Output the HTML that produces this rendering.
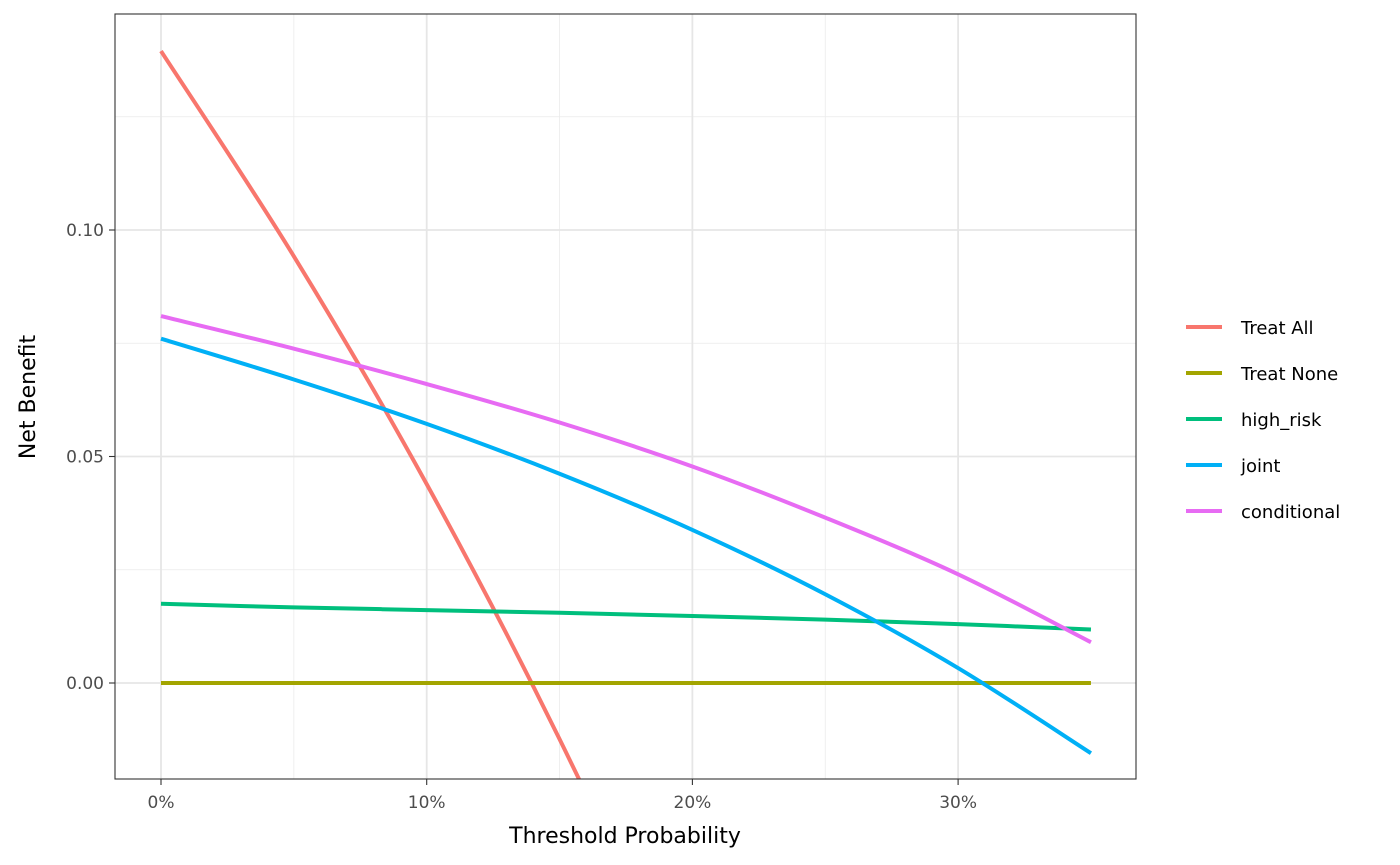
<!DOCTYPE html>
<html><head><meta charset="utf-8"><style>
html,body{margin:0;padding:0;background:#fff;overflow:hidden;width:1400px;height:865px}
svg{display:block}
svg text{font-family:"DejaVu Sans","Liberation Sans",sans-serif}
</style></head><body>
<svg width="1400" height="865" id="chart">
<defs><clipPath id="clip"><rect x="115" y="14" width="1021" height="765"/></clipPath></defs>
<rect x="115" y="14" width="1021" height="765" fill="#fff"/>
<g id="grid"></g>
<g id="series" clip-path="url(#clip)"></g>
<rect x="115" y="14" width="1021" height="765" fill="none" stroke="#333" stroke-width="1.1"/>
<g id="axes"></g>
<text x="625" y="843" text-anchor="middle" font-size="22" fill="#000">Threshold Probability</text>
<text transform="translate(35,397) rotate(-90)" text-anchor="middle" font-size="22" fill="#000">Net Benefit</text>
<g id="legend"></g>
</svg>
<script>
const thresholds=[0,0.05,0.10,0.15,0.20,0.25,0.30,0.35];
const treatAll=[0.1395,0.0942,0.0439,-0.0124,-0.0756,-0.147,-0.229,-0.324];
const treatNone=[0,0,0,0,0,0,0,0];
const highRisk=[0.0175,0.0167,0.0161,0.0155,0.0148,0.0140,0.0130,0.0118];
const joint=[0.076,0.067,0.0572,0.0462,0.0338,0.0196,0.0033,-0.0155];
const conditional=[0.081,0.0738,0.066,0.0575,0.0478,0.0365,0.0240,0.0090];
const seriesNames=["Treat All","Treat None","high_risk","joint","conditional"];
const seriesColors=["#F8766D","#A3A500","#00BF7D","#00B0F6","#E76BF3"];
const xTicks=[0,0.1,0.2,0.3];
const xTickLabels=["0%","10%","20%","30%"];
const yTicks=[0,0.05,0.10];
const yTickLabels=["0.00","0.05","0.10"];
const xMinor=[0.05,0.15,0.25];
const yMinor=[-0.025,0.025,0.075,0.125];
const NS="http://www.w3.org/2000/svg";
const X=t=>161+t*2657;
const Y=v=>683-v*4530;
function mk(tag,attrs,parent){const e=document.createElementNS(NS,tag);for(const k in attrs)e.setAttribute(k,attrs[k]);parent.appendChild(e);return e;}
const grid=document.getElementById('grid');
xMinor.forEach(t=>{const l=mk('line',{x1:X(t),x2:X(t),y1:14,y2:779,stroke:'#ebebeb','stroke-width':0.8},grid);

});
yMinor.forEach(v=>{if(Y(v)<14||Y(v)>779)return;const l=mk('line',{x1:115,x2:1136,y1:Y(v),y2:Y(v),stroke:'#ebebeb','stroke-width':0.8},grid);

});
xTicks.forEach(t=>{const l=mk('line',{x1:X(t),x2:X(t),y1:14,y2:779,stroke:'#e6e6e6','stroke-width':1.8},grid);

});
yTicks.forEach(v=>{const l=mk('line',{x1:115,x2:1136,y1:Y(v),y2:Y(v),stroke:'#e6e6e6','stroke-width':1.8},grid);

});
const axes=document.getElementById('axes');
xTicks.forEach((t,i)=>{const l=mk('line',{x1:X(t),x2:X(t),y1:779,y2:785,stroke:'#333','stroke-width':1.1},axes);


const tx=mk('text',{x:X(t),y:808,'text-anchor':'middle','font-size':17,fill:'#4d4d4d'},axes);tx.textContent=xTickLabels[i];

});
yTicks.forEach((v,i)=>{const l=mk('line',{x1:109,x2:115,y1:Y(v),y2:Y(v),stroke:'#333','stroke-width':1.1},axes);


const tx=mk('text',{x:104,y:Y(v)+6,'text-anchor':'end','font-size':17,fill:'#4d4d4d'},axes);tx.textContent=yTickLabels[i];

});
function smooth(vals){const p=thresholds.map((t,i)=>[X(t),Y(vals[i])]);let d='M'+p[0][0]+','+p[0][1];
for(let i=0;i<p.length-1;i++){const p0=p[Math.max(0,i-1)],p1=p[i],p2=p[i+1],p3=p[Math.min(p.length-1,i+2)];
const c1=[p1[0]+(p2[0]-p0[0])/6,p1[1]+(p2[1]-p0[1])/6],c2=[p2[0]-(p3[0]-p1[0])/6,p2[1]-(p3[1]-p1[1])/6];
d+=` C${c1[0]},${c1[1]} ${c2[0]},${c2[1]} ${p2[0]},${p2[1]}`;}return d;}
const allSeries=[treatAll,treatNone,highRisk,joint,conditional];
const sg=document.getElementById('series');
const keys=["treat-all","treat-none","high-risk","joint","conditional"];
allSeries.forEach((vals,i)=>{const p=mk('path',{d:smooth(vals),fill:'none',stroke:seriesColors[i],'stroke-width':4},sg);

});
const lg=document.getElementById('legend');
seriesNames.forEach((n,i)=>{const y=327+i*46;
const g=mk('g',{},lg);


mk('line',{x1:1186,x2:1222,y1:y,y2:y,stroke:seriesColors[i],'stroke-width':4},g);
const t=mk('text',{x:1241,y:y+7,'font-size':18,fill:'#000'},g);t.textContent=n;});
</script>
</body></html>
